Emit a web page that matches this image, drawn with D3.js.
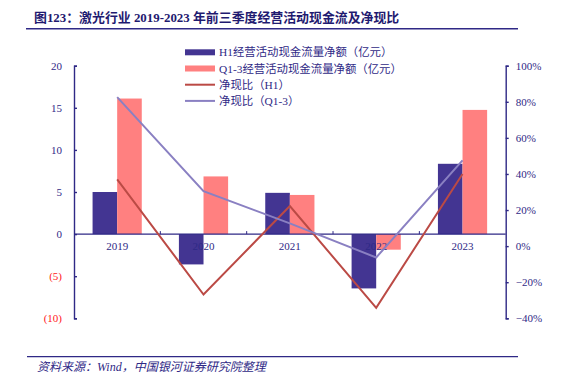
<!DOCTYPE html>
<html>
<head>
<meta charset="utf-8">
<script src="https://cdn.jsdelivr.net/npm/d3@7"></script>
<style>
  body { margin: 0; background: #fff; }
  svg text { font-family: "Liberation Serif", "Noto Sans CJK SC", serif; }
</style>
</head>
<body>
<div id="chart"></div>
<script>
const years = ["2019", "2020", "2021", "2022", "2023"];
const h1Cash = [5.0, -3.6, 4.9, -6.45, 8.35];
const q13Cash = [16.1, 6.85, 4.65, -1.85, 14.75];
const ratioH1 = [0.37, -0.268, 0.222, -0.342, 0.40];
const ratioQ13 = [0.826, 0.305, 0.126, -0.063, 0.475];
const leftTicks = [20, 15, 10, 5, 0, -5, -10];
const rightTicks = [1, 0.8, 0.6, 0.4, 0.2, 0, -0.2, -0.4];

const navy = "#2f2986";
const colH1 = "#433592";
const colQ13 = "#ff8080";
const colLineH1 = "#bb4a45";
const colLineQ13 = "#8a80c2";

const width = 561;
const height = 386;

const svg = d3
  .select("#chart")
  .append("svg")
  .attr("width", width)
  .attr("height", height);

// 标题
svg
  .append("text")
  .attr("x", 34)
  .attr("y", 22)
  .attr("fill", "#1f1a70")
  .style("font-size", "12.9px")
  .style("font-weight", "bold")
  .text("图123：激光行业 2019-2023 年前三季度经营活动现金流及净现比");

svg
  .append("line")
  .attr("x1", 26)
  .attr("x2", 518)
  .attr("y1", 28.7)
  .attr("y2", 28.7)
  .attr("stroke", navy)
  .attr("stroke-width", 1.6);

// 坐标比例
const x = d3.scaleBand().domain(years).range([74, 505.7]).padding(0);
const sub = d3.scaleBand().domain(["h1", "q13"]).range([-24.6, 24.6]);
const yL = d3.scaleLinear().domain([-10, 20]).range([318.3, 65.7]);
const yR = d3.scaleLinear().domain([-0.4, 1]).range([318.3, 65.7]);

const cx = (d) => x(d) + x.bandwidth() / 2;

// 柱子
const barData = [];
years.forEach((y, i) => {
  barData.push({ year: y, key: "h1", v: h1Cash[i] });
  barData.push({ year: y, key: "q13", v: q13Cash[i] });
});

svg
  .selectAll(".bar")
  .data(barData)
  .enter()
  .append("rect")
  .attr("class", "bar")
  .attr("x", (d) => cx(d.year) + sub(d.key))
  .attr("width", sub.bandwidth())
  .attr("y", (d) => Math.min(yL(d.v), yL(0)))
  .attr("height", (d) => Math.abs(yL(d.v) - yL(0)))
  .attr("fill", (d) => (d.key === "h1" ? colH1 : colQ13));

// 左轴
const leftAxis = svg
  .append("g")
  .attr("transform", "translate(74,0)")
  .call(
    d3
      .axisLeft(yL)
      .tickValues(leftTicks)
      .tickSizeInner(-3)
      .tickSizeOuter(-3)
      .tickPadding(12)
      .tickFormat((d) => (d < 0 ? `(${-d})` : d))
  );
leftAxis.selectAll("path, line").attr("stroke", navy).attr("stroke-width", 1.4);
leftAxis
  .selectAll("text")
  .style("font-size", "11px")
  .style("font-family", "Liberation Serif")
  .attr("fill", (d) => (d < 0 ? "#ff2020" : navy));

// 右轴
const rightAxis = svg
  .append("g")
  .attr("transform", "translate(505.7,0)")
  .call(
    d3
      .axisRight(yR)
      .tickValues(rightTicks)
      .tickSizeInner(3)
      .tickSizeOuter(3)
      .tickPadding(7)
      .tickFormat((d) => `${Math.round(d * 100)}%`.replace("-", "\u2212"))
  );
rightAxis.selectAll("path, line").attr("stroke", navy).attr("stroke-width", 1.4);
rightAxis
  .selectAll("text")
  .style("font-size", "11px")
  .style("font-family", "Liberation Serif")
  .attr("fill", navy);

// 零线与类别轴
svg
  .append("line")
  .attr("x1", 74)
  .attr("x2", 505.7)
  .attr("y1", yL(0))
  .attr("y2", yL(0))
  .attr("stroke", navy)
  .attr("stroke-width", 1.4);

svg
  .selectAll(".cat-tick")
  .data(years.slice(1))
  .enter()
  .append("line")
  .attr("class", "cat-tick")
  .attr("x1", (d) => x(d))
  .attr("x2", (d) => x(d))
  .attr("y1", yL(0))
  .attr("y2", yL(0) - 3)
  .attr("stroke", navy)
  .attr("stroke-width", 1);

svg
  .selectAll(".cat-label")
  .data(years)
  .enter()
  .append("text")
  .attr("class", "cat-label")
  .attr("x", (d) => cx(d))
  .attr("y", yL(0) + 16)
  .attr("text-anchor", "middle")
  .attr("fill", navy)
  .style("font-size", "11px")
  .text((d) => d);

// 折线
const line = d3
  .line()
  .x((d, i) => cx(years[i]))
  .y((d) => yR(d));

svg
  .append("path")
  .datum(ratioH1)
  .attr("d", line)
  .attr("fill", "none")
  .attr("stroke", colLineH1)
  .attr("stroke-width", 2);

svg
  .append("path")
  .datum(ratioQ13)
  .attr("d", line)
  .attr("fill", "none")
  .attr("stroke", colLineQ13)
  .attr("stroke-width", 2);

// 图例
const legendItems = [
  { label: "H1经营活动现金流量净额（亿元）", color: colH1, type: "bar" },
  { label: "Q1-3经营活动现金流量净额（亿元）", color: colQ13, type: "bar" },
  { label: "净现比（H1）", color: colLineH1, type: "line" },
  { label: "净现比（Q1-3）", color: colLineQ13, type: "line" },
];

const legend = svg
  .selectAll(".legend")
  .data(legendItems)
  .enter()
  .append("g")
  .attr("class", "legend")
  .attr("transform", (d, i) => `translate(185,${52.3 + i * 16.2})`);

legend
  .append("rect")
  .attr("x", 0)
  .attr("width", 30)
  .attr("y", (d) => (d.type === "bar" ? -3 : -1))
  .attr("height", (d) => (d.type === "bar" ? 6 : 2))
  .attr("fill", (d) => d.color);

legend
  .append("text")
  .attr("x", 34)
  .attr("y", 4)
  .attr("fill", navy)
  .style("font-size", "11.4px")
  .text((d) => d.label);

// 资料来源
svg
  .append("line")
  .attr("x1", 27)
  .attr("x2", 518)
  .attr("y1", 356.7)
  .attr("y2", 356.7)
  .attr("stroke", navy)
  .attr("stroke-width", 1.2);

svg
  .append("text")
  .attr("x", 37)
  .attr("y", 371)
  .attr("fill", navy)
  .style("font-size", "12px")
  .style("font-style", "italic")
  .text("资料来源：Wind，中国银河证券研究院整理");
</script>
</body>
</html>
